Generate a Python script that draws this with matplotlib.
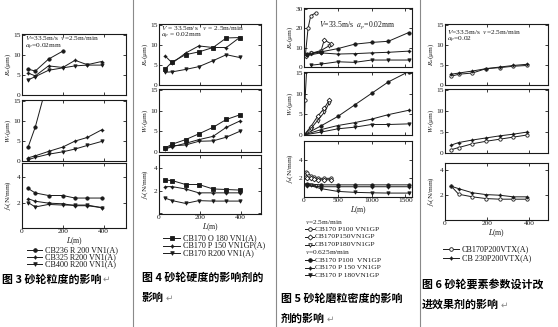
import matplotlib
matplotlib.use('Agg')
import matplotlib.pyplot as plt
from matplotlib.lines import Line2D

W, H, DPI = 558, 327, 100
plt.rcParams['font.family'] = ['Liberation Serif', 'DejaVu Serif']
plt.rcParams['mathtext.fontset'] = 'stix'
CJK = ['Noto Sans CJK SC', 'DejaVu Sans']
INK = '#1a1a1a'

# ---------------- data ----------------
# Fig 3 : grit size
f3_labels = ['CB236 R 200 VN1(A)', 'CB325 R200 VN1(A)', 'CB400 R200 VN1(A)']
f3_markers = ['o', (4, 1, 0), 'v']
f3_Ra_x = [[30, 65, 130, 200], [30, 65, 130, 200, 260, 320, 390], [30, 65, 130, 200, 260, 320, 390]]
f3_Ra = [[6.5, 6.0, 9.0, 11.0], [5.5, 4.8, 7.3, 6.9, 8.7, 7.6, 8.4], [3.8, 4.6, 6.2, 6.8, 7.3, 7.5, 7.5]]
f3_Wr_x = [[30, 65, 110], [30, 65, 130, 200, 260, 320, 390], [30, 65, 130, 200, 260, 320, 390]]
f3_Wr = [[3.5, 8.5, 17.0], [0.8, 1.3, 2.4, 3.5, 5.0, 5.9, 7.8], [0.3, 0.9, 1.7, 2.3, 3.0, 3.9, 4.9]]
f3_fc_x = [[30, 65, 130, 200, 260, 320, 390]] * 3
f3_fc = [[3.1, 2.75, 2.55, 2.55, 2.35, 2.35, 2.35], [2.3, 2.1, 1.95, 1.9, 1.75, 1.75, 1.6],
         [2.0, 1.65, 1.85, 1.8, 1.8, 1.8, 1.6]]

# Fig 4 : hardness
f4_labels = ['CB170 O 180 VN1(A)', 'CB170 P 150 VN1GP(A)', 'CB170 R200 VN1(A)']
f4_markers = ['s', (4, 1, 0), 'v']
f4_L = [30, 65, 130, 195, 265, 330, 395]
f4_Ra = [[4.0, 5.8, 7.6, 8.3, 9.4, 11.8, 11.9], [7.3, 5.5, 8.0, 9.8, 9.4, 9.4, 11.9],
         [3.2, 3.3, 3.9, 4.6, 6.1, 7.6, 6.9]]
f4_Wr = [[1.0, 1.9, 3.0, 4.4, 6.0, 7.9, 9.0], [0.7, 1.3, 2.1, 3.0, 3.8, 6.0, 7.5],
         [0.9, 1.5, 1.7, 2.6, 2.7, 3.6, 5.0]]
f4_fc = [[2.95, 2.9, 2.55, 2.55, 2.15, 2.1, 2.05], [2.36, 2.36, 2.15, 1.8, 1.8, 1.8, 1.8],
         [1.33, 1.1, 0.85, 1.1, 1.06, 1.06, 1.06]]

# Fig 5 : concentration (open = v 2.5 m/min, filled = v 0.625 m/min)
f5_labels = ['CB170 P100 VN1GP', 'CB170P150VN1GP', 'CB170P180VN1GP',
             'CB170 P100  VN1GP', 'CB170 P 150 VN1GP', 'CB170 P 180VN1GP']
f5_groups = ['$v$=2.5m/min', '$v$=0.625m/min']
f5_markers = ['o', 'D', 'v', 'o', (4, 1, 0), 'v']
f5_filled = [False, False, False, True, True, True]
f5_Ra_x = [[20, 60, 100, 175], [30, 100, 250, 300, 400], [30, 100, 250, 375],
           [50, 250, 500, 750, 1000, 1250, 1550], [50, 250, 500, 750, 1000, 1250, 1550],
           [100, 250, 500, 750, 1000, 1250, 1550]]
f5_Ra = [[6.0, 20.0, 26.5, 28.0], [5.5, 7.0, 8.0, 14.0, 12.0], [6.0, 7.0, 8.5, 11.0],
         [6.5, 7.8, 9.5, 11.8, 12.7, 13.3, 17.8], [6.0, 7.3, 6.7, 6.9, 7.3, 7.6, 8.2],
         [0.9, 1.5, 2.7, 2.4, 3.6, 3.6, 3.6]]
f5_Wr_x = [[0, 15, 40], [0, 100, 200, 300, 375], [0, 100, 200, 300, 375],
           [0, 250, 500, 750, 1000, 1250, 1550], [0, 250, 500, 750, 1000, 1250, 1550],
           [0, 250, 500, 750, 1000, 1250, 1550]]
f5_Wr = [[0.0, 8.5, 16.0], [0.0, 2.0, 4.5, 6.5, 8.5], [0.0, 1.5, 3.5, 5.5, 7.8],
         [0.0, 2.2, 4.5, 7.3, 10.1, 12.9, 15.4], [0.0, 1.3, 2.3, 3.0, 3.85, 4.95, 6.0],
         [0.0, 0.7, 1.5, 1.9, 2.55, 2.55, 2.7]]
f5_fc_x = [[25, 50, 100, 150, 200, 300, 400], [25, 50, 100, 150, 200, 300, 400], [25, 50, 100, 175],
           [50, 250, 500, 750, 1000, 1250, 1550], [50, 250, 500, 750, 1000, 1250, 1550],
           [50, 250, 500, 750, 1000, 1250, 1550]]
f5_fc = [[2.7, 2.6, 2.3, 2.1, 2.0, 2.0, 2.0], [2.1, 2.05, 2.0, 1.9, 1.85, 1.85, 1.85], [1.3, 1.3, 1.25, 1.2],
         [1.4, 1.3, 1.3, 1.3, 1.3, 1.3, 1.3], [1.2, 1.1, 1.1, 1.1, 1.1, 1.1, 1.1],
         [1.3, 0.9, 0.6, 0.5, 0.45, 0.42, 0.42]]

# Fig 6 : improved design
f6_labels = ['CB170P200VTX(A)', 'CB 230P200VTX(A)']
f6_markers = ['o', (4, 1, 0)]
f6_filled = [False, True]
f6_L = [30, 65, 130, 195, 260, 325, 390]
f6_Ra = [[2.2, 2.7, 3.0, 4.1, 4.35, 4.7, 4.9], [2.7, 3.0, 3.5, 4.1, 4.5, 4.9, 5.2]]
f6_Wr = [[0.8, 1.3, 2.2, 2.8, 3.3, 3.8, 4.3], [1.9, 2.5, 3.1, 3.6, 4.1, 4.5, 5.0]]
f6_fc = [[2.72, 2.08, 1.87, 1.73, 1.68, 1.68, 1.68], [2.72, 2.53, 2.2, 2.05, 2.0, 1.87, 1.87]]

captions = [
    (2, 279, ['图 3 砂轮粒度的影响']),
    (142, 277, ['图 4 砂轮硬度的影响剂的', '影响']),
    (281, 298, ['图 5 砂轮磨粒密度的影响', '剂的影响']),
    (422, 284, ['图 6 砂轮要素参数设计改', '进效果剂的影响']),
]

# ---------------- helpers ----------------
fig = plt.figure(figsize=(W / DPI, H / DPI), dpi=DPI)
fig.patch.set_facecolor('white')


def ax_px(l, t, r, b):
    return fig.add_axes([l / W, 1 - b / H, (r - l) / W, (b - t) / H])


def ftext(x, y, s, **kw):
    kw.setdefault('va', 'center')
    kw.setdefault('color', INK)
    return fig.text(x / W, 1 - y / H, s, **kw)


def style(ax, xlim, ylim, yticks, ylabels, xticks, xlabels, ylab):
    ax.set_xlim(*xlim)
    ax.set_ylim(*ylim)
    ax.set_yticks(yticks)
    ax.set_yticklabels(ylabels)
    ax.set_xticks(xticks)
    ax.set_xticklabels(xlabels)
    ax.tick_params(direction='in', length=2.2, width=0.6, labelsize=5.3, pad=1.0,
                   top=True, right=True, colors=INK)
    for s in ax.spines.values():
        s.set_linewidth(0.8)
        s.set_color(INK)
    ax.set_ylabel(ylab, fontsize=5.2, labelpad=1, color=INK)
    ax.patch.set_alpha(0)


def draw(ax, xs, ys, marker, filled=True):
    ax.plot(xs, ys, color=INK, lw=0.7, marker=marker, ms=2.4,
            mfc=INK if filled else 'white', mec=INK, mew=0.6, clip_on=True)


def legend_row(x0, x1, y, marker, filled, label, tx, fs=5.9):
    fig.add_artist(Line2D([x0 / W, x1 / W], [1 - y / H] * 2, color=INK, lw=0.7))
    fig.add_artist(Line2D([(x0 + x1) / 2 / W], [1 - y / H], marker=marker, ms=2.6,
                          mfc=INK if filled else 'white', mec=INK, mew=0.6, lw=0))
    ftext(tx, y, label, fontsize=fs)


RA = '$R_a$(μm)'
WR = '$W_r$(μm)'
FC = '$f_n$(N/mm)'


def panel(l, r, boxes, xlim, xt, xtl, ralim, rat, fclim):
    axes = [ax_px(l, t, r, b) for (t, b) in boxes]
    a1, a2, a3 = axes
    style(a1, xlim, ralim, rat, [str(v) for v in rat], xt, [''] * len(xt), RA)
    style(a2, xlim, (0, 15.3), [0, 5, 10, 15], ['0', '5', '10', '15'], xt, [''] * len(xt), WR)
    style(a3, xlim, fclim, [0, 2, 4], ['', '2', '4'], xt, xtl, FC)
    a3.set_xlabel('$L$(m)', fontsize=5.5, labelpad=0.5, color=INK)
    for ax in axes:
        ax.yaxis.set_label_coords(-9.0 / (r - l), 0.5)
    return axes


# ---------------- Fig 3 ----------------
a1, a2, a3 = panel(22, 126, [(34, 95), (100, 161), (163, 228)], (0, 510), [0, 200, 400], ['0', '200', '400'],
                   (0, 15.3), [0, 5, 10, 15], (0, 5.1))
for i in range(3):
    draw(a1, f3_Ra_x[i], f3_Ra[i], f3_markers[i])
    draw(a2, f3_Wr_x[i], f3_Wr[i], f3_markers[i])
    draw(a3, f3_fc_x[i], f3_fc[i], f3_markers[i])
ftext(25, 38.5, '$V$=33.5m/s  $v$=2.5m/min', fontsize=5.3)
ftext(25, 47, '$a_p$=0.02mm', fontsize=5.3)
for i in range(3):
    legend_row(27, 42, 250 + 7 * i, f3_markers[i], True, f3_labels[i], 45)

# ---------------- Fig 4 ----------------
a1, a2, a3 = panel(159, 261, [(24, 85), (89, 152), (155, 214)], (0, 500), [0, 200, 400], ['0', '200', '400'],
                   (0, 15.3), [0, 5, 10, 15], (-0.1, 5.2))
for i in range(3):
    draw(a1, f4_L, f4_Ra[i], f4_markers[i])
    draw(a2, f4_L, f4_Wr[i], f4_markers[i])
    draw(a3, f4_L, f4_fc[i], f4_markers[i])
ftext(161, 27.5, '$V$ = 33.5m/s   $v$ = 2.5m/min', fontsize=5.3)
ftext(161, 36, '$a_p$ = 0.02mm', fontsize=5.3)
for i in range(3):
    legend_row(163, 180, 238 + 7.5 * i, f4_markers[i], True, f4_labels[i], 183)

# ---------------- Fig 5 ----------------
a1, a2, a3 = panel(304, 412, [(8, 67), (72, 135), (141, 197)], (0, 1600), [0, 500, 1000, 1500],
                   ['0', '500', '1000', '1500'], (0, 30.5), [0, 10, 20, 30], (0, 6))
for i in range(6):
    draw(a1, f5_Ra_x[i], f5_Ra[i], f5_markers[i], f5_filled[i])
    draw(a2, f5_Wr_x[i], f5_Wr[i], f5_markers[i], f5_filled[i])
    draw(a3, f5_fc_x[i], f5_fc[i], f5_markers[i], f5_filled[i])
ftext(319, 25, '$V$=33.5m/s  $a_p$=0.02mm', fontsize=5.6)
rows5 = [221.5 + 7.7 * k for k in range(8)]
ftext(305, rows5[0], f5_groups[0], fontsize=5.3)
for i in range(3):
    legend_row(305, 314, rows5[1 + i], f5_markers[i], f5_filled[i], f5_labels[i], 315, fs=5.4)
ftext(305, rows5[4], f5_groups[1], fontsize=5.3)
for i in range(3, 6):
    legend_row(305, 314, rows5[2 + i], f5_markers[i], f5_filled[i], f5_labels[i], 315, fs=5.4)

# ---------------- Fig 6 ----------------
a1, a2, a3 = panel(445, 548, [(24, 85), (89, 153), (163, 220)], (0, 490), [0, 200, 400], ['0', '200', '400'],
                   (0, 15.3), [0, 5, 10, 15], (0, 4.6))
for i in range(2):
    draw(a1, f6_L, f6_Ra[i], f6_markers[i], f6_filled[i])
    draw(a2, f6_L, f6_Wr[i], f6_markers[i], f6_filled[i])
    draw(a3, f6_L, f6_fc[i], f6_markers[i], f6_filled[i])
ftext(447, 31.5, '$V$=33.5m/s  $v$=2.5m/min', fontsize=5.3)
ftext(447, 40, '$a_p$=0.02', fontsize=5.3)
for i in range(2):
    legend_row(443, 459, 249 + 9 * i, f6_markers[i], f6_filled[i], f6_labels[i], 462)

# ---------------- separators & captions ----------------
for xs in (133, 276, 420):
    fig.add_artist(Line2D([xs / W] * 2, [0, 1], color='#8a8a8a', lw=0.8))

renderer = fig.canvas.get_renderer()
for x, y, lines in captions:
    for j, s in enumerate(lines):
        t = ftext(x, y + 21 * j, s, fontsize=7.9, fontweight='bold', family=CJK, color='black')
    bb = t.get_window_extent(renderer=renderer)
    fig.text(bb.x1 / W + 1.5 / W, 1 - (y + 21 * (len(lines) - 1)) / H, '↵', fontsize=6.5,
             family=['DejaVu Sans'], va='center', color='#888888')

fig.savefig('out.png', dpi=DPI, facecolor='white')
